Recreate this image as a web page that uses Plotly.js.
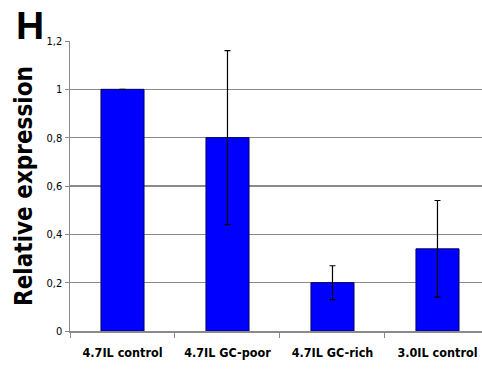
<!DOCTYPE html>
<html>
<head>
<meta charset="utf-8">
<script src="https://cdn.plot.ly/plotly-3.0.1.min.js"></script>
<style>html,body{margin:0;padding:0;background:#fff;overflow:hidden}#chart{width:482px;height:371px}</style>
</head>
<body>
<div id="chart"></div>
<script>
const categories = ["4.7IL control", "4.7IL GC-poor", "4.7IL GC-rich", "3.0IL control"];
const values = [1.0, 0.8, 0.2, 0.34];
const errors = [null, 0.36, 0.07, 0.2];
const yTicks = [0, 0.2, 0.4, 0.6, 0.8, 1, 1.2];
const yTickLabels = ["0", "0,2", "0,4", "0,6", "0,8", "1", "1,2"];

const narrow = "DejaVu Sans Condensed, Liberation Sans Narrow, Arial Narrow, sans-serif";

const trace = {
  type: "bar",
  x: categories,
  y: values,
  width: 0.41,
  marker: {color: "#0000FF", line: {color: "#000060", width: 1}},
  error_y: {type: "data", array: errors, visible: true, color: "#000000", thickness: 1.2, width: 3}
};

const layout = {
  width: 482, height: 371,
  margin: {l: 70, r: 0, t: 41, b: 40},
  paper_bgcolor: "#ffffff", plot_bgcolor: "#ffffff",
  showlegend: false,
  xaxis: {
    type: "category",
    range: [-0.5, 3.424],
    showgrid: false,
    showline: true, linecolor: "#8a8a8a", linewidth: 1.5,
    ticks: "outside", tickson: "boundaries", ticklen: 5, tickcolor: "#8a8a8a",
    tickfont: {family: narrow, size: 12.5, color: "#000", weight: "bold"},
    ticklabelstandoff: 9,
    fixedrange: true
  },
  yaxis: {
    range: [0, 1.2],
    tickvals: yTicks, ticktext: yTickLabels,
    showgrid: true, gridcolor: "#8a8a8a", gridwidth: 1.5,
    zeroline: false,
    showline: true, linecolor: "#8a8a8a", linewidth: 1.5,
    ticks: "outside", ticklen: 4, tickcolor: "#8a8a8a",
    tickfont: {family: narrow, size: 11, color: "#000"},
    title: {text: "<b>Relative expression</b>", font: {family: "DejaVu Sans Condensed, Liberation Sans, sans-serif", size: 24, color: "#000"}, standoff: 7},
    fixedrange: true
  },
  annotations: [{
    text: "<b>H</b>", xref: "paper", yref: "paper", x: -0.097, y: 1.0,
    xanchor: "center", yanchor: "bottom", showarrow: false,
    yshift: -8,
    font: {family: "Liberation Sans, Arial, sans-serif", size: 39, color: "#000"}
  }]
};

Plotly.newPlot("chart", [trace], layout, {displayModeBar: false, staticPlot: true});
</script>
</body>
</html>
